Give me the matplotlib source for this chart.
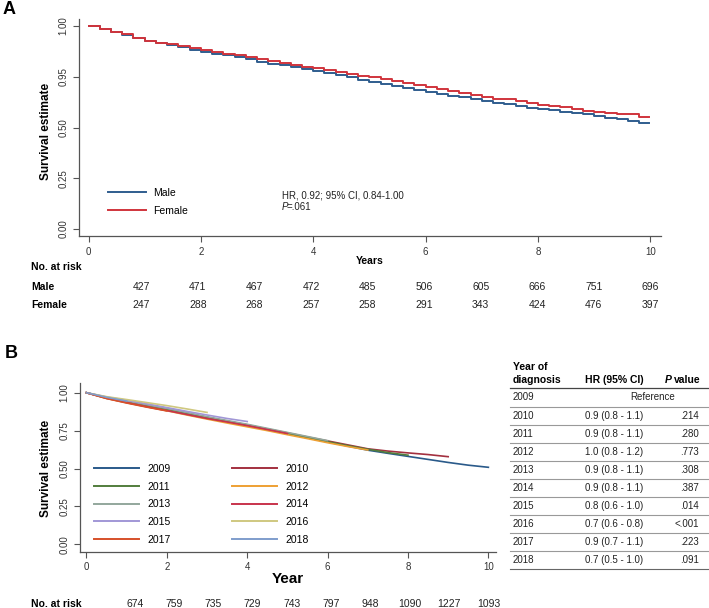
import matplotlib
matplotlib.use('Agg')
import matplotlib.pyplot as plt
from matplotlib.transforms import blended_transform_factory
from matplotlib.lines import Line2D

plt.rcParams['font.family'] = ['Liberation Sans', 'DejaVu Sans']

# ---------------- DATA ----------------
# Panel A: Kaplan-Meier by sex
times_a = [0.0, 0.2, 0.4, 0.6, 0.8, 1.0, 1.2, 1.4, 1.6, 1.8, 2.0, 2.2, 2.4, 2.6, 2.8,
           3.0, 3.2, 3.4, 3.6, 3.8, 4.0, 4.2, 4.4, 4.6, 4.8, 5.0, 5.2, 5.4, 5.6, 5.8,
           6.0, 6.2, 6.4, 6.6, 6.8, 7.0, 7.2, 7.4, 7.6, 7.8, 8.0, 8.2, 8.4, 8.6, 8.8,
           9.0, 9.2, 9.4, 9.6, 9.8, 9.97]
male_surv = [1.000, 0.985, 0.972, 0.958, 0.941, 0.925, 0.914, 0.905, 0.895, 0.884,
             0.874, 0.864, 0.855, 0.846, 0.836, 0.825, 0.815, 0.806, 0.797, 0.787,
             0.778, 0.767, 0.757, 0.747, 0.736, 0.726, 0.716, 0.706, 0.697, 0.687,
             0.677, 0.667, 0.657, 0.648, 0.639, 0.630, 0.622, 0.614, 0.606, 0.598,
             0.591, 0.584, 0.577, 0.571, 0.565, 0.558, 0.548, 0.541, 0.531, 0.522,
             0.520]
female_surv = [1.000, 0.985, 0.972, 0.959, 0.943, 0.928, 0.918, 0.909, 0.900, 0.891,
               0.882, 0.873, 0.864, 0.856, 0.847, 0.838, 0.828, 0.818, 0.809, 0.800,
               0.791, 0.783, 0.774, 0.765, 0.756, 0.747, 0.738, 0.729, 0.718, 0.708,
               0.698, 0.689, 0.680, 0.670, 0.659, 0.650, 0.643, 0.641, 0.632, 0.622,
               0.613, 0.607, 0.600, 0.593, 0.583, 0.578, 0.572, 0.566, 0.565, 0.553,
               0.553]
risk_male = [427, 471, 467, 472, 485, 506, 605, 666, 751, 696]
risk_female = [247, 288, 268, 257, 258, 291, 343, 424, 476, 397]
hr_text_a = "HR, 0.92; 95% CI, 0.84-1.00"
p_text_a = "=.061"
yticklabels_a = ["0.00", "0.25", "0.50", "0.95", "1.00"]

# Panel B: by year of diagnosis
times_b = [0.0, 0.5, 1.0, 1.5, 2.0, 2.5, 3.0, 3.5, 4.0, 4.5, 5.0, 5.5, 6.0, 6.5,
           7.0, 7.5, 8.0, 8.5, 9.0, 9.5, 10.0]
cohorts = ['2009', '2010', '2011', '2012', '2013', '2014', '2015', '2016', '2017', '2018']
surv_b = {
    '2009': [1.000, 0.968, 0.944, 0.918, 0.893, 0.866, 0.838, 0.812, 0.786, 0.758, 0.730,
             0.702, 0.675, 0.648, 0.621, 0.600, 0.580, 0.560, 0.540, 0.522, 0.508],
    '2010': [1.000, 0.966, 0.940, 0.915, 0.890, 0.862, 0.836, 0.810, 0.787, 0.761, 0.735,
             0.708, 0.682, 0.656, 0.630, 0.615, 0.603, 0.592, 0.578],
    '2011': [1.000, 0.967, 0.942, 0.917, 0.892, 0.864, 0.837, 0.812, 0.788, 0.760, 0.732,
             0.704, 0.677, 0.651, 0.627, 0.605, 0.588],
    '2012': [1.000, 0.962, 0.934, 0.907, 0.881, 0.853, 0.826, 0.800, 0.775, 0.750, 0.723,
             0.697, 0.670, 0.645, 0.622],
    '2013': [1.000, 0.970, 0.946, 0.921, 0.896, 0.869, 0.842, 0.817, 0.792, 0.765, 0.738,
             0.711, 0.684],
    '2014': [1.000, 0.963, 0.935, 0.908, 0.882, 0.856, 0.830, 0.807, 0.783, 0.757, 0.731],
    '2015': [1.000, 0.972, 0.950, 0.927, 0.902, 0.877, 0.853, 0.830, 0.810],
    '2016': [1.000, 0.974, 0.955, 0.935, 0.915, 0.893, 0.870],
    '2017': [1.000, 0.962, 0.932, 0.905, 0.880],
    '2018': [1.000, 0.970, 0.945],
}
risk_b = [674, 759, 735, 729, 743, 797, 948, 1090, 1227, 1093]
table_years = ['2009', '2010', '2011', '2012', '2013', '2014', '2015', '2016', '2017', '2018']
table_hr = ['Reference', '0.9 (0.8 - 1.1)', '0.9 (0.8 - 1.1)', '1.0 (0.8 - 1.2)',
            '0.9 (0.8 - 1.1)', '0.9 (0.8 - 1.1)', '0.8 (0.6 - 1.0)', '0.7 (0.6 - 0.8)',
            '0.9 (0.7 - 1.1)', '0.7 (0.5 - 1.0)']
table_p = ['', '.214', '.280', '.773', '.308', '.387', '.014', '<.001', '.223', '.091']

# ---------------- STYLE ----------------
colors_a = {'Male': '#2f5d8e', 'Female': '#d0343c'}
colors_b = {'2009': '#2a5a8a', '2010': '#a3303f', '2011': '#527d3c', '2012': '#eea033',
            '2013': '#93a79c', '2014': '#c8334c', '2015': '#a197d6', '2016': '#cfc880',
            '2017': '#d6502a', '2018': '#7f9dcc'}
spine_col = '#555555'
tick_col = '#333333'

W, H = 709, 608
fig = plt.figure(figsize=(W / 100, H / 100), dpi=100)


def fx(x):
    return x / W


def fy(y):
    return 1 - y / H


def style_axes(ax):
    for s in ['top', 'right']:
        ax.spines[s].set_visible(False)
    for s in ['left', 'bottom']:
        ax.spines[s].set_color(spine_col)
        ax.spines[s].set_linewidth(0.9)
    ax.tick_params(axis='both', colors=spine_col, labelcolor=tick_col, labelsize=7,
                   length=4, width=0.8, direction='out')
    for lab in ax.get_yticklabels():
        lab.set_rotation(90)
        lab.set_va('center')


# ---------------- PANEL A ----------------
axA = fig.add_axes([fx(79), fy(236), fx(661) - fx(79), fy(18.7) - fy(236)])
axA.step(times_a, male_surv, where='post', color=colors_a['Male'], lw=1.4, label='Male')
axA.step(times_a, female_surv, where='post', color=colors_a['Female'], lw=1.4, label='Female')
axA.set_xlim(-0.17, 10.19)
axA.set_ylim(-0.034, 1.036)
axA.set_xticks([0, 2, 4, 6, 8, 10])
axA.set_yticks([0, 0.25, 0.5, 0.75, 1.0])
axA.set_yticklabels(yticklabels_a)
style_axes(axA)
axA.tick_params(axis='x', pad=4)
handlesA = [Line2D([], [], color=colors_a['Male'], lw=1.4),
            Line2D([], [], color=colors_a['Female'], lw=1.4)]
axA.legend(handlesA, ['Male', 'Female'], loc='upper left', frameon=False,
           bbox_to_anchor=(fx(108), fy(188)), bbox_transform=fig.transFigure,
           fontsize=7.5, handlelength=3.6, handletextpad=0.7, labelspacing=0.75,
           borderpad=0, borderaxespad=0)
fig.text(fx(282), fy(195), hr_text_a, fontsize=7, va='center', ha='left', color='#222222')
fig.text(fx(282), fy(207), 'P', fontsize=7, va='center', ha='left', style='italic', color='#222222')
fig.text(fx(287), fy(207), p_text_a, fontsize=7, va='center', ha='left', color='#222222')

fig.text(fx(46), fy(131), 'Survival estimate', rotation=90, fontsize=8.5, fontweight='bold',
         ha='center', va='center')
trA = blended_transform_factory(axA.transData, fig.transFigure)
axA.text(5, fy(261), 'Years', transform=trA, fontsize=7.5, fontweight='bold', ha='center', va='center')
fig.text(fx(31), fy(267), 'No. at risk', fontsize=7.5, fontweight='bold', ha='left', va='center')
fig.text(fx(31), fy(287), 'Male', fontsize=7.5, fontweight='bold', ha='left', va='center')
fig.text(fx(31), fy(305), 'Female', fontsize=7.5, fontweight='bold', ha='left', va='center')
pos_a = [0.94 + i * (10 - 0.94) / 9 for i in range(10)]
for xp, m, f in zip(pos_a, risk_male, risk_female):
    axA.text(xp, fy(287), str(m), transform=trA, fontsize=7.5, ha='center', va='center', color='#222222')
    axA.text(xp, fy(305), str(f), transform=trA, fontsize=7.5, ha='center', va='center', color='#222222')
fig.text(fx(3), fy(10), 'A', fontsize=13, fontweight='bold', ha='left', va='center')

# ---------------- PANEL B ----------------
axB = fig.add_axes([fx(80), fy(552), fx(496) - fx(80), fy(383) - fy(552)])
for c in cohorts:
    s = surv_b[c]
    axB.plot(times_b[:len(s)], s, color=colors_b[c], lw=1.2, label=c)
axB.set_xlim(-0.16, 10.19)
axB.set_ylim(-0.0508, 1.0641)
axB.set_xticks([0, 2, 4, 6, 8, 10])
axB.set_yticks([0, 0.25, 0.5, 0.75, 1.0])
axB.set_yticklabels(["0.00", "0.25", "0.50", "0.75", "1.00"])
style_axes(axB)
order = ['2009', '2010', '2011', '2012', '2013', '2014', '2015', '2016', '2017', '2018']
leg_order = order[0::2] + order[1::2]
handlesB = [Line2D([], [], color=colors_b[c], lw=1.4) for c in leg_order]
axB.legend(handlesB, leg_order, loc='upper left', ncol=2, frameon=False,
           bbox_to_anchor=(fx(94), fy(464)), bbox_transform=fig.transFigure,
           fontsize=7.5, handlelength=4.3, handletextpad=0.85, labelspacing=0.74,
           columnspacing=5.85, borderpad=0, borderaxespad=0)
fig.text(fx(46), fy(468), 'Survival estimate', rotation=90, fontsize=8.5, fontweight='bold',
         ha='center', va='center')
trB = blended_transform_factory(axB.transData, fig.transFigure)
axB.text(5, fy(579), 'Year', transform=trB, fontsize=11, fontweight='bold', ha='center', va='center')
fig.text(fx(31), fy(604), 'No. at risk', fontsize=7.5, fontweight='bold', ha='left', va='center')
pos_b = [1.2 + i * (10 - 1.2) / 9 for i in range(10)]
for xp, n in zip(pos_b, risk_b):
    axB.text(xp, fy(604), str(n), transform=trB, fontsize=7.5, ha='center', va='center', color='#222222')
fig.text(fx(5), fy(353), 'B', fontsize=13, fontweight='bold', ha='left', va='center')

# ---------------- TABLE ----------------
tx0, tx1 = 510, 709
fig.text(fx(513), fy(367), 'Year of', fontsize=7.5, fontweight='bold', ha='left', va='center')
fig.text(fx(513), fy(380), 'diagnosis', fontsize=7.5, fontweight='bold', ha='left', va='center')
fig.text(fx(585), fy(380), 'HR (95% CI)', fontsize=7.5, fontweight='bold', ha='left', va='center')
fig.text(fx(665), fy(380), 'P', fontsize=7.5, fontweight='bold', style='italic', ha='left', va='center')
fig.text(fx(674), fy(380), 'value', fontsize=7.5, fontweight='bold', ha='left', va='center')
fig.add_artist(Line2D([fx(tx0), fx(tx1)], [fy(388), fy(388)], transform=fig.transFigure,
                      color='#444444', lw=0.9))
row_y0, row_dy = 397.5, 18.1
for i, (yr, hr, p) in enumerate(zip(table_years, table_hr, table_p)):
    yy = row_y0 + i * row_dy
    fig.text(fx(513), fy(yy), yr, fontsize=7, ha='left', va='center', color='#222222')
    if hr == 'Reference':
        fig.text(fx(653), fy(yy), hr, fontsize=7, ha='center', va='center', color='#222222')
    else:
        fig.text(fx(585), fy(yy), hr, fontsize=7, ha='left', va='center', color='#222222')
        fig.text(fx(699), fy(yy), p, fontsize=7, ha='right', va='center', color='#222222')
    ly = yy + row_dy / 2
    fig.add_artist(Line2D([fx(tx0), fx(tx1)], [fy(ly), fy(ly)], transform=fig.transFigure,
                          color='#999999' if i < len(table_years) - 1 else '#666666', lw=0.8))

fig.savefig('out.png', dpi=100)
